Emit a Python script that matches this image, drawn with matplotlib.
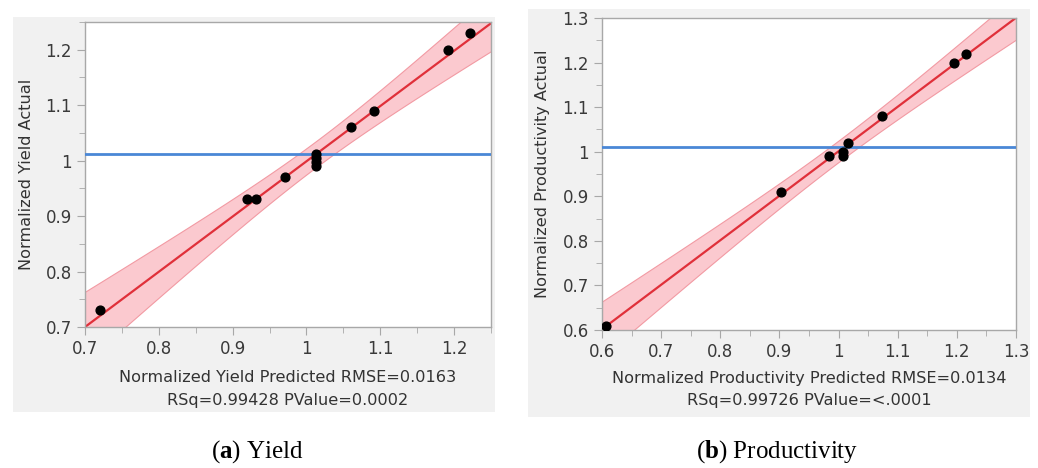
"""Actual-by-predicted plots for normalized yield and productivity."""

import numpy as np
import matplotlib

matplotlib.use("Agg")
import matplotlib.pyplot as plt
from matplotlib.patches import Rectangle
from matplotlib.ticker import MultipleLocator

plt.rcParams["mathtext.fontset"] = "custom"
plt.rcParams["mathtext.bf"] = "Liberation Serif:bold"
plt.rcParams["mathtext.rm"] = "Liberation Serif"

# Yield panel
yield_pred = [0.72, 0.92, 0.931, 0.971, 1.013, 1.013, 1.013, 1.013, 1.061, 1.091, 1.192, 1.222]
yield_act = [0.73, 0.93, 0.93, 0.97, 1.012, 1.005, 0.998, 0.99, 1.06, 1.09, 1.20, 1.23]
yield_mean = 1.012
yield_rmse = 0.0163

# Productivity panel
prod_pred = [0.606, 0.903, 0.984, 1.008, 1.008, 1.016, 1.074, 1.196, 1.216]
prod_act = [0.61, 0.91, 0.99, 1.0, 0.99, 1.02, 1.08, 1.20, 1.22]
prod_mean = 1.01
prod_rmse = 0.0134

W, H = 1038, 468
fig = plt.figure(figsize=(W / 100, H / 100), dpi=100)
fig.patch.set_facecolor("white")


def px_axes(x0, y0, x1, y1):
    # pixel box (top-left origin) -> figure axes
    return fig.add_axes([x0 / W, 1 - y1 / H, (x1 - x0) / W, (y1 - y0) / H])


def panel(bg, box, xp, ya, mean, t_crit, rmse, lims, xlabel, ylabel, ylab_x):
    bx0, by0, bx1, by1 = bg
    fig.patches.append(Rectangle((bx0 / W, 1 - by1 / H), (bx1 - bx0) / W, (by1 - by0) / H,
                                 transform=fig.transFigure, facecolor="#f1f1f1",
                                 edgecolor="none", zorder=-5))
    ax = px_axes(*box)
    ax.set_zorder(2)
    ax.set_facecolor("white")
    xp = np.array(xp)
    ya = np.array(ya)

    # Fit line and confidence band
    slope, icpt = np.polyfit(xp, ya, 1)
    xs = np.linspace(lims[0], lims[1], 200)
    fit = slope * xs + icpt
    sxx = np.sum((xp - xp.mean()) ** 2)
    half = t_crit * rmse * np.sqrt(1 / len(xp) + (xs - xp.mean()) ** 2 / sxx)
    ax.fill_between(xs, fit - half, fit + half, facecolor="#fbc9cf",
                    edgecolor="#f29aa3", linewidth=0.8, zorder=1)
    ax.plot(xs, fit, color="#e0303a", linewidth=1.6, zorder=2)
    ax.axhline(mean, color="#4a87d6", linewidth=2.0, zorder=3)
    ax.scatter(xp, ya, s=40, color="black", zorder=4)

    ax.set_xlim(lims)
    ax.set_ylim(lims)
    ax.xaxis.set_major_locator(MultipleLocator(0.1))
    ax.yaxis.set_major_locator(MultipleLocator(0.1))
    ax.xaxis.set_minor_locator(MultipleLocator(0.05))
    ax.yaxis.set_minor_locator(MultipleLocator(0.05))
    fmt = lambda v, p: ("%g" % round(v, 2))
    ax.xaxis.set_major_formatter(fmt)
    ax.yaxis.set_major_formatter(fmt)
    ax.tick_params(which="major", length=6, color="#a8a8a8", labelsize=12,
                   labelcolor="#3a3a3a")
    ax.tick_params(which="minor", length=4, color="#a8a8a8")
    for s in ax.spines.values():
        s.set_color("#a8a8a8")
        s.set_linewidth(1.0)

    cx = (box[0] + box[2]) / 2
    fig.text(cx / W, 1 - 378 / H, xlabel[0], ha="center", va="center",
             fontsize=11.6, color="#333333")
    fig.text(cx / W, 1 - 400 / H, xlabel[1], ha="center", va="center",
             fontsize=11.6, color="#333333")
    cy = (box[1] + box[3]) / 2
    fig.text(ylab_x / W, 1 - cy / H, ylabel, ha="center", va="center",
             rotation=90, fontsize=11.6, color="#333333")
    return ax


panel((13, 17, 495, 412), (85, 22, 491, 327), yield_pred, yield_act, yield_mean,
      5.0, yield_rmse, (0.7, 1.25),
      ("Normalized Yield Predicted RMSE=0.0163", "RSq=0.99428 PValue=0.0002"),
      "Normalized Yield Actual", 27)

panel((528, 9, 1030, 417), (602, 18, 1016, 330), prod_pred, prod_act, prod_mean,
      5.4, prod_rmse, (0.6, 1.3),
      ("Normalized Productivity Predicted RMSE=0.0134", "RSq=0.99726 PValue=<.0001"),
      "Normalized Productivity Actual", 543)

serif = ["Liberation Serif", "DejaVu Serif"]
fig.text(257 / W, 1 - 452 / H, r"($\mathbf{a}$) Yield", ha="center", va="center",
         fontsize=18, family=serif)
fig.text(777 / W, 1 - 452 / H, r"($\mathbf{b}$) Productivity", ha="center", va="center",
         fontsize=18, family=serif)

fig.savefig("out.png", dpi=100)
